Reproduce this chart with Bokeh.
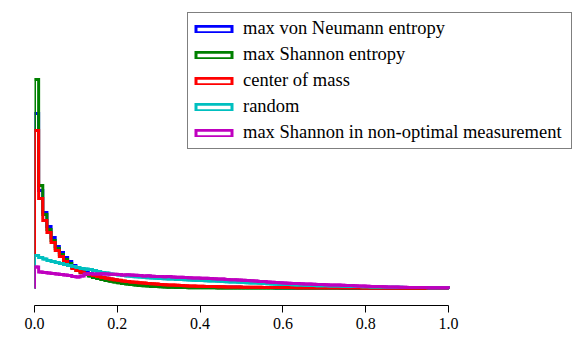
import numpy as np
from bokeh.plotting import figure
from bokeh.models import (ColumnDataSource, Range1d, FixedTicker, LinearAxis,
                          Legend, LegendItem, Quad)
from bokeh.embed import file_html
from bokeh.resources import INLINE

# ---------------- data ----------------
bin_width = 0.01
n_bins = 100
bin_edges = np.round(np.arange(n_bins + 1) * bin_width, 2)

tick_values = [0.0, 0.2, 0.4, 0.6, 0.8, 1.0]
tick_labels = ["0.0", "0.2", "0.4", "0.6", "0.8", "1.0"]

series_names = ["max von Neumann entropy", "max Shannon entropy", "center of mass",
                "random", "max Shannon in non-optimal measurement"]
series_colors = ["#0000ff", "#008000", "#ff0000", "#00bfbf", "#bf00bf"]

von_neumann = [
    175, 98, 76, 62, 51, 42, 36, 31, 27, 23,
    20, 18, 16.3, 14.8, 13.5, 12.3, 11.2, 10.2, 9.3, 8.5,
    7.8, 7.1, 6.5, 6.0, 5.5, 5.0, 4.6, 4.2, 3.9, 3.6,
    3.3, 3.0, 2.8, 2.6, 2.4, 2.2, 2.0, 1.9, 1.8, 1.7,
    1.6, 1.55, 1.5, 1.45, 1.4, 1.35, 1.3, 1.25, 1.2, 1.15,
    1.1, 1.05, 1.0, 1.0, 0.95, 0.95, 0.9, 0.9, 0.85, 0.85,
    0.8, 0.8, 0.8, 0.75, 0.75, 0.75, 0.7, 0.7, 0.7, 0.7,
    0.65, 0.65, 0.65, 0.65, 0.6, 0.6, 0.6, 0.6, 0.6, 0.55,
    0.55, 0.55, 0.55, 0.55, 0.5, 0.5, 0.5, 0.5, 0.5, 0.5,
    0.5, 0.5, 0.45, 0.45, 0.45, 0.45, 0.45, 0.45, 0.45, 0.45,
]
max_shannon = [
    209, 103, 74, 59, 48, 40, 34, 29, 25, 21,
    18, 16, 14, 12.5, 11, 10, 9, 8, 7.2, 6.5,
    5.8, 5.1, 4.5, 4.0, 3.5, 3.1, 2.7, 2.4, 2.1, 1.9,
    1.7, 1.5, 1.3, 1.2, 1.1, 1.0, 0.9, 0.85, 0.8, 0.75,
    0.7, 0.7, 0.65, 0.65, 0.6, 0.6, 0.6, 0.55, 0.55, 0.55,
    0.5, 0.5, 0.5, 0.5, 0.5, 0.5, 0.45, 0.45, 0.45, 0.45,
    0.45, 0.45, 0.45, 0.4, 0.4, 0.4, 0.4, 0.4, 0.4, 0.4,
    0.4, 0.4, 0.4, 0.4, 0.4, 0.4, 0.4, 0.4, 0.4, 0.4,
    0.4, 0.4, 0.4, 0.4, 0.4, 0.4, 0.4, 0.4, 0.4, 0.4,
    0.4, 0.4, 0.4, 0.4, 0.4, 0.4, 0.4, 0.4, 0.4, 0.4,
]
center_of_mass = [
    158, 90, 68, 56, 46, 38, 32, 27, 23, 20,
    18, 16.5, 15, 14, 13, 12, 11, 10.2, 9.5, 8.8,
    8.2, 7.6, 7.1, 6.6, 6.2, 5.8, 5.4, 5.0, 4.7, 4.4,
    4.1, 3.8, 3.6, 3.4, 3.2, 3.0, 2.8, 2.6, 2.5, 2.3,
    2.2, 2.1, 2.0, 1.9, 1.8, 1.7, 1.6, 1.5, 1.45, 1.4,
    1.35, 1.3, 1.25, 1.2, 1.15, 1.1, 1.05, 1.0, 1.0, 0.95,
    0.95, 0.9, 0.9, 0.85, 0.85, 0.8, 0.8, 0.8, 0.75, 0.75,
    0.75, 0.7, 0.7, 0.7, 0.7, 0.65, 0.65, 0.65, 0.65, 0.6,
    0.6, 0.6, 0.6, 0.6, 0.55, 0.55, 0.55, 0.55, 0.55, 0.5,
    0.5, 0.5, 0.5, 0.5, 0.5, 0.5, 0.5, 0.5, 0.5, 0.5,
]
random_choice = [
    33, 31, 29.5, 28, 27, 26, 25, 24, 23, 22,
    21, 20, 19.5, 19, 18, 17, 16, 15.5, 14.5, 14,
    13.5, 13, 12.5, 12.2, 11.8, 11.5, 11.2, 10.8, 10.5, 10.2,
    10, 9.8, 9.6, 9.4, 9.1, 9.0, 8.8, 8.6, 8.3, 8.1,
    8, 7.8, 7.6, 7.4, 7.2, 7, 6.8, 6.6, 6.4, 6.2,
    6, 5.8, 5.6, 5.4, 5.2, 5, 4.8, 4.6, 4.3, 4.1,
    4, 3.9, 3.7, 3.6, 3.4, 3.3, 3.1, 3.0, 2.8, 2.7,
    2.7, 2.6, 2.5, 2.4, 2.3, 2.2, 2.1, 2.0, 1.9, 1.8,
    1.7, 1.6, 1.6, 1.5, 1.4, 1.3, 1.3, 1.2, 1.2, 1.1,
    1.0, 1.0, 0.9, 0.9, 0.9, 0.8, 0.8, 0.8, 0.7, 0.7,
]
shannon_nonoptimal = [
    21.5, 16.5, 16, 15.5, 15, 14.5, 14, 13.5, 13, 12,
    11.5, 12.5, 14.5, 14.8, 14.6, 14.5, 14.7, 14.4, 14.3, 14.2,
    14.0, 13.6, 13.8, 13.4, 13.2, 12.9, 12.6, 12.8, 12.3, 12.1,
    12.0, 11.7, 11.9, 11.5, 11.2, 11.3, 10.9, 10.8, 10.6, 10.5,
    10.3, 10.2, 9.9, 9.8, 9.5, 9.4, 9.1, 8.8, 8.7, 8.4,
    8.2, 7.9, 7.7, 7.4, 7.1, 6.9, 6.6, 6.3, 6.0, 5.7,
    5.5, 5.3, 5.0, 4.9, 4.7, 4.5, 4.4, 4.2, 4.1, 3.9,
    3.8, 3.6, 3.5, 3.4, 3.2, 3.0, 2.9, 2.7, 2.5, 2.4,
    2.2, 2.1, 2.0, 1.9, 1.7, 1.6, 1.5, 1.4, 1.3, 1.2,
    1.1, 1.0, 1.0, 0.9, 0.9, 0.8, 0.8, 0.8, 0.7, 0.7,
]
series_values = [von_neumann, max_shannon, center_of_mass, random_choice, shannon_nonoptimal]

# ---------------- figure ----------------
FONT = "Times"
p = figure(width=576, height=338, output_backend="svg", toolbar_location=None,
           x_range=Range1d(0, 540 / 414), y_range=Range1d(-17, 278),
           x_axis_location=None, y_axis_location=None,
           min_border_left=34, min_border_right=2, min_border_top=10,
           min_border_bottom=33)
p.grid.visible = False
p.outline_line_color = None
p.background_fill_color = "white"
p.border_fill_color = "white"

xaxis = LinearAxis(ticker=FixedTicker(ticks=tick_values), bounds=(0, 1))
xaxis.major_label_overrides = {v: l for v, l in zip(tick_values, tick_labels)}
xaxis.major_label_text_font = FONT
xaxis.major_label_text_font_size = "16px"
xaxis.major_label_text_color = "black"
xaxis.major_label_standoff = 5
xaxis.axis_line_color = "black"
xaxis.axis_line_width = 1
xaxis.major_tick_line_color = "black"
xaxis.major_tick_in = 0
xaxis.major_tick_out = 7
xaxis.minor_tick_line_color = None
p.add_layout(xaxis, "below")

left_edges = bin_edges[:-1]
right_edges = bin_edges[1:]
items = []
for name, color, vals in zip(series_names, series_colors, series_values):
    vals = np.asarray(vals, dtype=float)
    xs = np.repeat(bin_edges, 2)
    ys = np.concatenate([[0.0], np.repeat(vals, 2), [0.0]])
    p.line(xs, ys, line_color=color, line_width=3, line_join="miter")
    # flat (zero-height) bin outlines coincide with the step tops; used for the legend swatch
    src = ColumnDataSource(dict(l=left_edges, r=right_edges, b=vals, t=vals))
    qr = p.add_glyph(src, Quad(left="l", right="r", bottom="b", top="t",
                               fill_color="white", fill_alpha=0.0,
                               line_color=color, line_width=3, line_join="miter"))
    items.append(LegendItem(label=name, renderers=[qr]))

legend = Legend(items=items, location="top_right", margin=2,
                padding=3, spacing=1, label_height=25, label_standoff=7,
                label_width=325, glyph_width=45, glyph_height=8,
                label_text_font=FONT, label_text_font_size="18.5px",
                label_text_color="black",
                border_line_color="black", border_line_width=1.5,
                background_fill_color="white", background_fill_alpha=1.0)
p.add_layout(legend, "center")

open("out.html", "w").write(file_html(p, INLINE))
